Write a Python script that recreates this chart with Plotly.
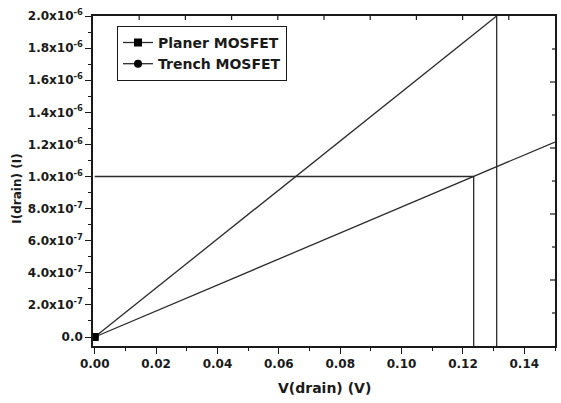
import plotly.graph_objects as go

# Output characteristics: drain current vs drain voltage
v_planer = [0.0, 0.131]
i_planer = [0.0, 2.0e-6]
v_trench = [0.0, 0.1235, 0.15]
i_trench = [0.0, 1.0e-6, 1.215e-6]

# Read-off guides: current level and the voltages where each device reaches it
i_ref = 1.0e-6
v_trench_ref = 0.1235
v_planer_ref = 0.131
i_planer_top = 2.0e-6
i_floor = -1.0e-7  # guides run down past the lower axis limit

y_tickvals = [0, 2e-7, 4e-7, 6e-7, 8e-7, 1e-6, 1.2e-6, 1.4e-6, 1.6e-6, 1.8e-6, 2e-6]
y_ticktext = ["0.0", "2.0x10<sup>-7</sup>", "4.0x10<sup>-7</sup>", "6.0x10<sup>-7</sup>",
              "8.0x10<sup>-7</sup>", "1.0x10<sup>-6</sup>", "1.2x10<sup>-6</sup>",
              "1.4x10<sup>-6</sup>", "1.6x10<sup>-6</sup>", "1.8x10<sup>-6</sup>",
              "2.0x10<sup>-6</sup>"]
y_minor = [1e-7, 3e-7, 5e-7, 7e-7, 9e-7, 1.1e-6, 1.3e-6, 1.5e-6, 1.7e-6, 1.9e-6]

FONT = "DejaVu Sans"
INK = "#1a1a1a"
LINE = "#2b2b2b"

fig = go.Figure()

fig.add_trace(go.Scatter(
    x=v_planer, y=i_planer, name="Planer MOSFET", mode="lines+markers",
    line=dict(color=LINE, width=1.3),
    marker=dict(symbol="square", size=8, color="#000"),
    selectedpoints=[0], unselected=dict(marker=dict(opacity=0)),
))
fig.add_trace(go.Scatter(
    x=v_trench, y=i_trench, name="Trench MOSFET", mode="lines+markers",
    line=dict(color=LINE, width=1.3),
    marker=dict(symbol="circle", size=8, color="#000"),
    selectedpoints=[0], unselected=dict(marker=dict(opacity=0)),
))

# guide lines
fig.add_trace(go.Scatter(
    x=[0.0, v_trench_ref, v_trench_ref], y=[i_ref, i_ref, i_floor],
    mode="lines", line=dict(color=LINE, width=1.3), showlegend=False, hoverinfo="skip",
))
fig.add_trace(go.Scatter(
    x=[v_planer_ref, v_planer_ref], y=[i_planer_top, i_floor],
    mode="lines", line=dict(color=LINE, width=1.3), showlegend=False, hoverinfo="skip",
))

tick_font = dict(family=FONT, size=12, color=INK, weight="bold")

# inward frame ticks along the top and right edges (ten equal divisions)
frame_ticks = []
for k in range(1, 10):
    frame_ticks.append(dict(
        type="line", xref="x domain", yref="y domain",
        x0=k / 10, x1=k / 10, ysizemode="pixel", yanchor=1, y0=0, y1=-4,
        line=dict(color=INK, width=1.2),
    ))
    frame_ticks.append(dict(
        type="line", xref="x domain", yref="y domain",
        y0=k / 10, y1=k / 10, xsizemode="pixel", xanchor=1, x0=0,
        x1=-5 if k % 2 == 0 else -3,
        line=dict(color=INK, width=1.2),
    ))

fig.update_layout(
    width=561, height=403,
    margin=dict(l=93, r=4, t=16, b=57),
    paper_bgcolor="white", plot_bgcolor="white",
    showlegend=True,
    shapes=frame_ticks,
    xaxis=dict(
        range=[-0.00055, 0.15], tick0=0, dtick=0.02, tickformat=".2f",
        ticks="outside", ticklen=6, tickwidth=1.3, tickcolor=INK,
        minor=dict(tick0=0, dtick=0.01, ticks="outside", ticklen=3, tickwidth=1.2, tickcolor=INK),
        showline=True, mirror=True, linewidth=1.5, linecolor=INK,
        showgrid=False, zeroline=False, tickfont=tick_font,
    ),
    yaxis=dict(
        range=[-5.6e-8, 2.0e-6], tickmode="array", tickvals=y_tickvals, ticktext=y_ticktext,
        ticks="outside", ticklen=6, tickwidth=1.3, tickcolor=INK,
        minor=dict(tickmode="array", tickvals=y_minor, ticks="outside", ticklen=3,
                   tickwidth=1.2, tickcolor=INK),
        showline=True, mirror=True, linewidth=1.5, linecolor=INK,
        showgrid=False, zeroline=False, tickfont=tick_font,
    ),
    legend=dict(
        x=0.052, y=0.970, xanchor="left", yanchor="top",
        bgcolor="white", bordercolor=INK, borderwidth=1,
        font=dict(family=FONT, size=14, color=INK, weight="bold"),
        itemwidth=30, tracegroupgap=0,
    ),
    annotations=[
        dict(text="V(drain) (V)", xref="paper", yref="paper", x=0.5, y=-0.127,
             xanchor="center", yanchor="middle", showarrow=False,
             font=dict(family=FONT, size=14, color=INK, weight="bold")),
        dict(text="I(drain) (I)", xref="paper", yref="paper", x=-0.165, y=0.476,
             xanchor="center", yanchor="middle", showarrow=False, textangle=-90,
             font=dict(family=FONT, size=12, color=INK, weight="bold")),
    ],
)

fig.write_html("out.html")
